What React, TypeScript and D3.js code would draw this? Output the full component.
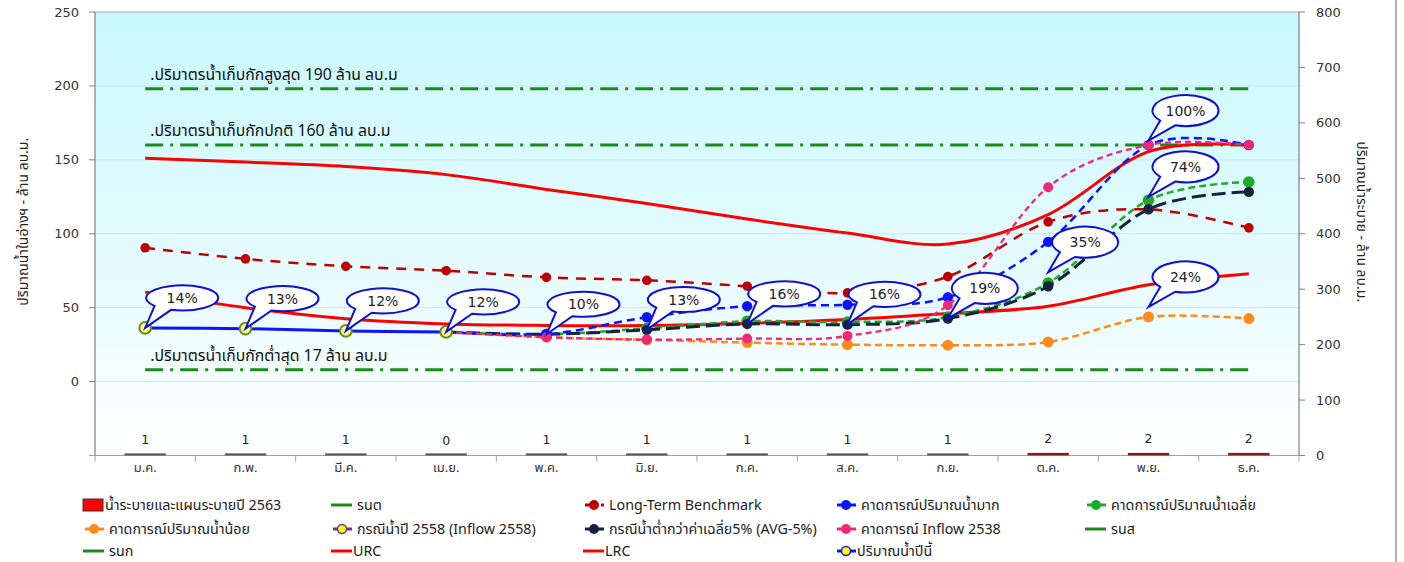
import React from "react";
import * as d3 from "d3";

const months = ["ม.ค.", "ก.พ.", "มี.ค.", "เม.ย.", "พ.ค.", "มิ.ย.", "ก.ค.", "ส.ค.", "ก.ย.", "ต.ค.", "พ.ย.", "ธ.ค."];
const releaseValues = [1, 1, 1, 0, 1, 1, 1, 1, 1, 2, 2, 2];
const urcValues = [151, 148.5, 145.5, 140, 130, 120.5, 110, 100.5, 93, 113, 155.5, 160];
const lrcValues = [60.5, 50, 42.5, 39, 38, 38, 39.5, 42, 46, 51, 65.5, 73];
const benchmarkValues = [90.5, 83, 78, 75, 70.5, 68.5, 64.5, 60, 71, 108, 116.5, 104];
const highValues = [null, null, null, 33.6, 32, 43.5, 51, 52, 57, 94.5, 160, 160];
const avgValues = [null, null, null, 33.6, 32, 36, 40.8, 40.3, 43.7, 66.7, 122.7, 135];
const avgMinus5Values = [null, null, null, 33.6, 32, 35, 39, 38.5, 42.6, 64.5, 116.6, 128.3];
const lowValues = [null, null, null, 33.6, 30, 28.2, 26.4, 25, 24.6, 26.8, 43.7, 42.6];
const inflow2538Values = [null, null, null, 33.6, 30, 28.4, 29.1, 30.9, 51.6, 131.5, 160, 160];
const currentValues = [36.3, 35.8, 34.3, 33.6, null, null, null, null, null, null, null, null];
const maxStorage = 198;
const normalStorage = 160;
const minStorage = 8;
const refLabels = [".ปริมาตรน้ำเก็บกักสูงสุด 190 ล้าน ลบ.ม", ".ปริมาตรน้ำเก็บกักปกติ 160 ล้าน ลบ.ม", ".ปริมาตรน้ำเก็บกักต่ำสุด 17 ล้าน ลบ.ม"];
const leftTicks = [0, 50, 100, 150, 200, 250];
const rightTicks = [0, 100, 200, 300, 400, 500, 600, 700, 800];
const bubbleTexts = ["14%", "13%", "12%", "12%", "10%", "13%", "16%", "16%", "19%", "35%", "74%", "100%", "24%"];
const bubbleMonths = [0, 1, 2, 3, 4, 5, 6, 7, 8, 9, 10, 10, 10];
const bubbleValues = [36.3, 35.8, 34.3, 33.6, 32, 35.2, 39, 38.7, 42.8, 74, 125, 163, 50.5];

const THAI = "Tahoma, 'Noto Sans Thai', 'Noto Sans Thai UI', Loma, Garuda, 'Noto Sans', 'DejaVu Sans', sans-serif";
const NUM = "Tahoma, 'DejaVu Sans', Verdana, sans-serif";
const GREEN_REF = "#1e8a1e";

const W = 1404;
const H = 562;
const L = 95;
const R = 1299;
const T = 12;
const B = 455.5;

type Series = { name: string; values: (number | null)[]; color: string; width: number; dash?: string; r?: number };

const series: Series[] = [
  { name: "bench", values: benchmarkValues, color: "#c00000", width: 2.5, dash: "10,8", r: 4.8 },
  { name: "low", values: lowValues, color: "#ff8c1a", width: 2.5, dash: "7,4", r: 5.5 },
  { name: "avg", values: avgValues, color: "#1fa82a", width: 2.5, dash: "7,4", r: 5.8 },
  { name: "avg5", values: avgMinus5Values, color: "#15233f", width: 3, dash: "14,6", r: 5.2 },
  { name: "high", values: highValues, color: "#0a14ff", width: 2.5, dash: "8,5", r: 5.2 },
  { name: "inflow", values: inflow2538Values, color: "#f0287a", width: 2.3, dash: "6,4", r: 5 },
];

function bubblePath(cx: number, cy: number, rx: number, ry: number, tx: number, ty: number) {
  const a1 = (108 * Math.PI) / 180;
  const a2 = (140 * Math.PI) / 180;
  const A = [cx + rx * Math.cos(a1), cy + ry * Math.sin(a1)];
  const Bp = [cx + rx * Math.cos(a2), cy + ry * Math.sin(a2)];
  return `M${Bp[0]},${Bp[1]} L${tx},${ty} L${A[0]},${A[1]} A${rx},${ry} 0 1 0 ${Bp[0]},${Bp[1]} Z`;
}

export default function App() {
  const x = d3.scaleBand<string>().domain(months).range([L, R]);
  const cx = (i: number) => (x(months[i]) as number) + x.bandwidth() / 2;
  const yL = d3.scaleLinear().domain([-50, 250]).range([B, T]);
  const yR = d3.scaleLinear().domain([0, 800]).range([B, T]);

  const lineGen = d3
    .line<[number, number | null]>()
    .defined((d) => d[1] != null)
    .x((d) => cx(d[0]))
    .y((d) => yL(d[1] as number))
    .curve(d3.curveCatmullRom.alpha(0));

  const pathOf = (vals: (number | null)[]) => lineGen(vals.map((v, i) => [i, v] as [number, number | null])) || "";
  const refLine = (v: number) => `M${cx(0)},${yL(v)} L${cx(11)},${yL(v)}`;

  const legendCols = [83, 331, 583, 835, 1085];
  const legendRows = [505, 529, 551];

  type LegendItem = { label: string; kind: "rect" | "line" | "marker" | "yellow"; color: string; dash?: string; ring?: string };
  const legend: LegendItem[][] = [
    [
      { label: "น้ำระบายและแผนระบายปี 2563", kind: "rect", color: "#ff0000" },
      { label: "รนต", kind: "line", color: GREEN_REF },
      { label: "Long-Term Benchmark", kind: "marker", color: "#c00000", dash: "5,3" },
      { label: "คาดการณ์ปริมาณน้ำมาก", kind: "marker", color: "#0a14ff" },
      { label: "คาดการณ์ปริมาณน้ำเฉลี่ย", kind: "marker", color: "#1fa82a" },
    ],
    [
      { label: "คาดการณ์ปริมาณน้ำน้อย", kind: "marker", color: "#ff8c1a" },
      { label: "กรณีน้ำปี 2558 (Inflow 2558)", kind: "yellow", color: "#7030a0", ring: "#7030a0" },
      { label: "กรณีน้ำต่ำกว่าค่าเฉลี่ย5% (AVG-5%)", kind: "marker", color: "#15233f" },
      { label: "คาดการณ์ Inflow 2538", kind: "marker", color: "#f0287a" },
      { label: "รนส", kind: "line", color: GREEN_REF },
    ],
    [
      { label: "รนก", kind: "line", color: GREEN_REF },
      { label: "URC", kind: "line", color: "#ff0000" },
      { label: "LRC", kind: "line", color: "#ff0000" },
      { label: "ปริมาณน้ำปีนี้", kind: "yellow", color: "#0a14ff", ring: "#0a14ff" },
    ],
  ];

  return (
    <svg width={W} height={H} style={{ position: "absolute", left: 0, top: 0, background: "#fff" }}>
      <defs>
        <linearGradient id="bg" x1="0" y1="0" x2="0" y2="1">
          <stop offset="0" stopColor="#c9f9fd" />
          <stop offset="0.55" stopColor="#e4fbfe" />
          <stop offset="1" stopColor="#ffffff" />
        </linearGradient>
      </defs>
      <rect x={L} y={T} width={R - L} height={B - T} fill="url(#bg)" />
      <line x1={1396} y1={0} x2={1396} y2={H} stroke="#9a9a9a" strokeWidth={1.5} />

      {/* gridlines */}
      {leftTicks.slice(0, 5).map((t) => (
        <line key={"g" + t} x1={L} x2={R} y1={yL(t)} y2={yL(t)} stroke="#d6e2e4" strokeWidth={1} />
      ))}
      <line x1={L} x2={R} y1={T} y2={T} stroke="#a8a8a8" strokeWidth={1.2} />

      {/* left axis */}
      <line x1={L} x2={L} y1={T} y2={B} stroke="#808080" strokeWidth={1.2} />
      {[-50, ...leftTicks].map((t) => (
        <line key={"lt" + t} x1={L - 6} x2={L} y1={yL(t)} y2={yL(t)} stroke="#808080" strokeWidth={1} />
      ))}
      {leftTicks.map((t) => (
        <text key={"ll" + t} x={L - 16} y={yL(t)} dy="0.35em" textAnchor="end" fontFamily={NUM} fontSize={13} fill="#333">
          {t}
        </text>
      ))}
      {/* right axis */}
      <line x1={R} x2={R} y1={T} y2={B} stroke="#808080" strokeWidth={1.2} />
      {rightTicks.map((t) => (
        <line key={"rt" + t} x1={R} x2={R + 6} y1={yR(t)} y2={yR(t)} stroke="#808080" strokeWidth={1} />
      ))}
      {rightTicks.map((t) => (
        <text key={"rl" + t} x={R + 17} y={yR(t)} dy="0.35em" textAnchor="start" fontFamily={NUM} fontSize={13} fill="#333">
          {t}
        </text>
      ))}
      {/* bottom axis */}
      <line x1={L - 6} x2={R} y1={B} y2={B} stroke="#a0a0a0" strokeWidth={1.2} />
      {d3.range(13).map((k) => (
        <line key={"bt" + k} x1={L + k * x.step()} x2={L + k * x.step()} y1={B} y2={B + 6} stroke="#a0a0a0" strokeWidth={1} />
      ))}
      {months.map((m, i) => (
        <text key={m} x={cx(i)} y={B + 12} dy="0.35em" textAnchor="middle" fontFamily={THAI} fontSize={13} fill="#333">
          {m}
        </text>
      ))}

      {/* axis titles */}
      <text transform={`translate(23,${(T + B) / 2 - 12}) rotate(-90)`} textAnchor="middle" dy="0.35em" fontFamily={THAI} fontSize={14} fill="#222">
        ปริมาณน้ำในอ่างฯ - ล้าน ลบ.ม.
      </text>
      <text transform={`translate(1362,${(T + B) / 2 - 12}) rotate(90)`} textAnchor="middle" dy="0.35em" fontFamily={THAI} fontSize={14} fill="#222">
        ปริมาณน้ำระบาย - ล้าน ลบ.ม.
      </text>

      {/* release bars (right axis) */}
      {releaseValues.map((v, i) => {
        const bw = 40;
        const h = Math.max(yR(0) - yR(v), 0.6);
        return (
          <g key={"bar" + i}>
            <rect x={cx(i) - bw / 2} y={yR(0) - h - 0.8} width={bw} height={h} fill="#ff0000" stroke={v >= 2 ? "#8a1a1a" : "#555"} strokeWidth={1.4} />
            <text x={cx(i)} y={yR(v) - 11} textAnchor="middle" fontFamily={NUM} fontSize={12.5} fill="#222">
              {v}
            </text>
          </g>
        );
      })}

      {/* reference lines */}
      {[maxStorage, normalStorage, minStorage].map((v, i) => (
        <g key={"ref" + i}>
          <path d={refLine(v)} stroke={GREEN_REF} strokeWidth={3} strokeDasharray="18,7,3,7" fill="none" />
          <text x={cx(0) + 5} y={yL(v) - 9} fontFamily={THAI} fontSize={15.8} fill="#111">
            {refLabels[i]}
          </text>
        </g>
      ))}

      {/* URC / LRC */}
      <path d={pathOf(urcValues)} stroke="#ff0000" strokeWidth={3} fill="none" />
      <path d={pathOf(lrcValues)} stroke="#ff0000" strokeWidth={3} fill="none" />

      {/* forecast series */}
      {series.map((s) => (
        <g key={s.name}>
          <path d={pathOf(s.values)} stroke={s.color} strokeWidth={s.width} strokeDasharray={s.dash} fill="none" />
          {s.values.map((v, i) => (v == null ? null : <circle key={i} cx={cx(i)} cy={yL(v)} r={s.r} fill={s.color} />))}
        </g>
      ))}

      {/* current year */}
      <path d={pathOf(currentValues)} stroke="#0a14ff" strokeWidth={3} fill="none" />
      {currentValues.map((v, i) =>
        v == null ? null : <circle key={"cur" + i} cx={cx(i)} cy={yL(v)} r={5.8} fill="#ffff88" stroke="#6b8e23" strokeWidth={2} />
      )}

      {/* callouts */}
      {bubbleTexts.map((t, k) => {
        const tx = cx(bubbleMonths[k]);
        const ty = yL(bubbleValues[k]);
        const tall = bubbleMonths[k] >= 8;
        const rx = tall ? 33 : 36;
        const ry = tall ? 15.5 : 12.5;
        const ex = tx + 37;
        const ey = ty - 30;
        return (
          <g key={"b" + k}>
            <path d={bubblePath(ex, ey, rx, ry, tx, ty)} fill="#fff" stroke="#1010d0" strokeWidth={2} />
            <text x={ex} y={ey} dy="0.36em" textAnchor="middle" fontFamily={NUM} fontSize={14} fill="#222">
              {t}
            </text>
          </g>
        );
      })}

      {/* legend */}
      {legend.map((row, ri) =>
        row.map((item, ci) => {
          const lx = legendCols[ci];
          const ly = legendRows[ri];
          let sym: React.ReactNode = null;
          if (item.kind === "rect") {
            sym = <rect x={lx} y={ly - 6} width={20} height={12} fill={item.color} stroke="#333" strokeWidth={1} />;
          } else if (item.kind === "line") {
            sym = <line x1={lx} x2={lx + 21} y1={ly} y2={ly} stroke={item.color} strokeWidth={3} />;
          } else if (item.kind === "marker") {
            sym = (
              <g>
                <line x1={lx + 2} x2={lx + 21} y1={ly} y2={ly} stroke={item.color} strokeWidth={3} strokeDasharray={item.dash} />
                <circle cx={lx + 11} cy={ly} r={5} fill={item.color} />
              </g>
            );
          } else {
            sym = (
              <g>
                <line x1={lx + 2} x2={lx + 21} y1={ly} y2={ly} stroke={item.color} strokeWidth={3} />
                <circle cx={lx + 11} cy={ly} r={4.5} fill="#ffff00" stroke={item.ring} strokeWidth={1.5} />
              </g>
            );
          }
          const textX = item.kind === "rect" || item.label === "URC" || item.label === "LRC" || item.label === "ปริมาณน้ำปีนี้" ? lx + 22 : lx + 26;
          return (
            <g key={ri + "-" + ci}>
              {sym}
              <text x={textX} y={ly} dy="0.35em" fontFamily={THAI} fontSize={14.3} fill="#222">
                {item.label}
              </text>
            </g>
          );
        })
      )}
    </svg>
  );
}
